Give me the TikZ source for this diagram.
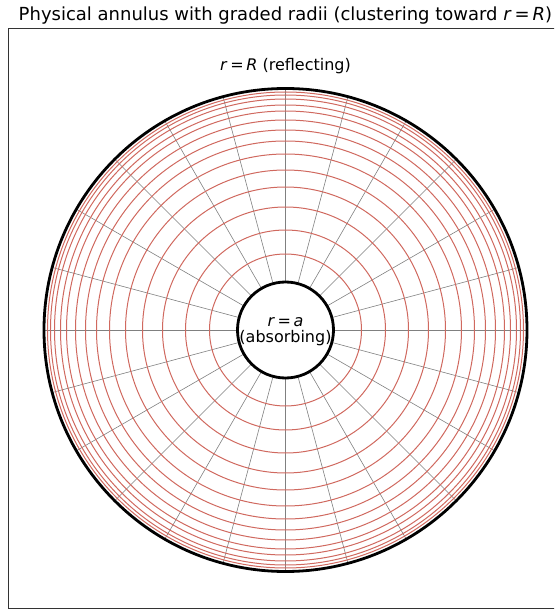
\documentclass[tikz,border=0pt]{standalone}
\usepackage{fontspec}
\setmainfont{DejaVu Sans}
\usetikzlibrary{positioning}
\definecolor{ringred}{RGB}{208,105,95}
\definecolor{spokegray}{RGB}{128,128,128}
\begin{document}
\begin{tikzpicture}[
    x=1pt, y=1pt,
    ring/.style={draw=ringred, line width=1pt},
    spoke/.style={draw=spokegray, line width=0.6pt},
    wall/.style={draw=black, line width=2.8pt},
    lbl/.style={font=\fontsize{16}{15.5}\selectfont, inner sep=0pt, align=center}
]
\useasboundingbox (-285.5,-280) rectangle (268.5,330);
\begin{scope}
\clip (-285.5,-280) rectangle (268.5,330);

% Rahmen
\draw[line width=0.9pt, black!80] (-277.5,-278) rectangle (276.5,302);

% Titel
\node[font=\fontsize{18}{21}\selectfont, anchor=base, inner sep=0pt] (title) at (0,309)
  {Physical annulus with graded radii (clustering toward \textit{r}\,=\,\textit{R})};

% Speichen
\foreach \ang in {0,15,...,345}
  \draw[spoke] (\ang:48) -- (\ang:241.5);

% Ringe
\foreach \rad in {76,100,123,143,160,176,189,200,210,219,225,231,235,238}
  \draw[ring] (0,0) circle (\rad);

% Raender
\draw[wall] (0,0) circle (241.5);
\draw[wall] (0,0) circle (48);

% Beschriftungen
\node[lbl, anchor=base] (outer) at (0,259.5) {\textit{r}\,=\,\textit{R} (reflecting)};
\node[lbl] (inner) at (0,-1.5) {\textit{r}\,=\,\textit{a}\\(absorbing)};
\end{scope}
\end{tikzpicture}
\end{document}
